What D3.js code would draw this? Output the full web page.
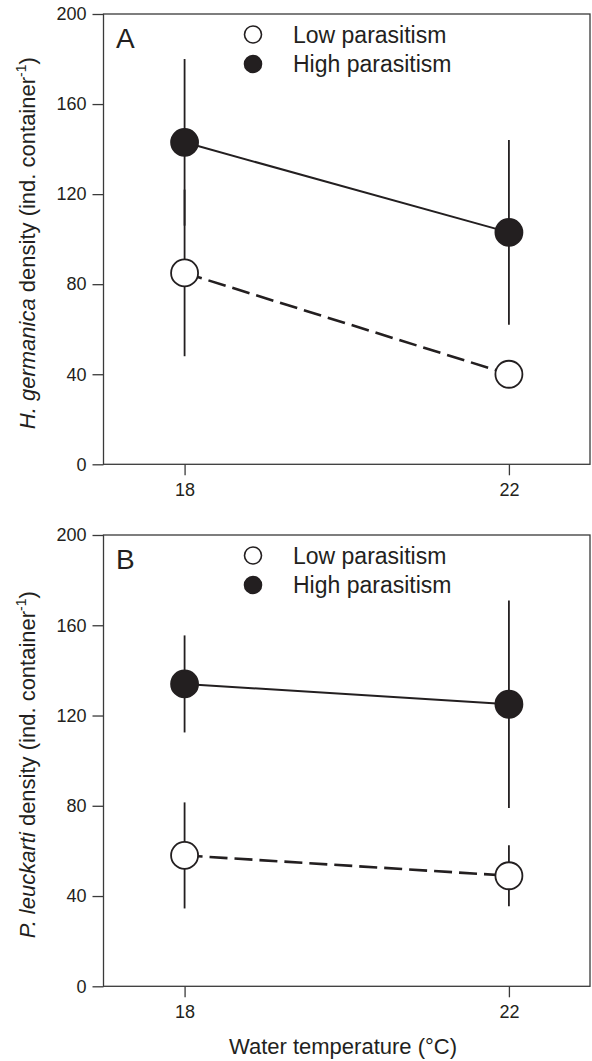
<!DOCTYPE html>
<html>
<head>
<meta charset="utf-8">
<script src="https://cdn.jsdelivr.net/npm/d3@7"></script>
<style>
  body { margin: 0; background: #fff; }
  svg text { font-family: "Liberation Sans", Arial, Helvetica, sans-serif; fill: #231f20; }
</style>
</head>
<body>
<div id="chart"></div>
<script>
/* ------------------------------- data ------------------------------- */
var temps = [18, 22];
var xTicks = [18, 22];
var yTicks = [0, 40, 80, 120, 160, 200];
var seriesNames = ['Low parasitism', 'High parasitism'];

// panel A: H. germanica
var aLowMean = [85, 40];
var aLowErr = [37, 4];
var aHighMean = [143, 103];
var aHighErr = [37, 41];

// panel B: P. leuckarti
var bLowMean = [58, 49];
var bLowErr = [23.5, 13.5];
var bHighMean = [134, 125];
var bHighErr = [21.5, 46];

/* ------------------------------- layout ------------------------------- */
var width = 592;
var height = 1061;
var left = 103.5;
var right = 590;
var ink = '#231f20';

var svg = d3.select('#chart').append('svg')
    .attr('width', width)
    .attr('height', height);

var x = d3.scaleLinear().domain([17, 23]).range([left, right]);

function drawPanel(opts) {
  var y = d3.scaleLinear().domain([0, 200]).range([opts.bottom, opts.top]);
  var g = svg.append('g');

  // frame
  g.append('rect')
      .attr('x', left).attr('y', opts.top)
      .attr('width', right - left).attr('height', opts.bottom - opts.top)
      .attr('fill', 'none').attr('stroke', '#3a3a3a').attr('stroke-width', 1.3);

  // axes
  var yAxis = g.append('g')
      .attr('transform', 'translate(' + left + ',0)')
      .call(d3.axisLeft(y).tickValues(yTicks).tickSize(11).tickPadding(6));
  var xAxis = g.append('g')
      .attr('transform', 'translate(0,' + opts.bottom + ')')
      .call(d3.axisBottom(x).tickValues(xTicks).tickFormat(d3.format('d')).tickSize(11).tickPadding(8));
  [yAxis, xAxis].forEach(function(ax) {
    ax.attr('font-size', 18).attr('font-family', null);
    ax.select('.domain').remove();
    ax.selectAll('line').attr('stroke', '#3a3a3a').attr('stroke-width', 1.3);
    ax.selectAll('text').attr('fill', ink);
  });

  // y title (rotated, part italic, superscript -1)
  var yt = g.append('text')
      .attr('transform', 'translate(35,' + ((opts.top + opts.bottom) / 2 + 4) + ') rotate(-90)')
      .attr('text-anchor', 'middle')
      .attr('font-size', 22);
  yt.append('tspan').attr('font-style', 'italic').text(opts.species);
  yt.append('tspan').text(' density (ind. container');
  yt.append('tspan').attr('font-size', 14).attr('dy', -9).text('-1');
  yt.append('tspan').attr('dy', 9).text(')');

  // panel letter
  g.append('text')
      .attr('x', 116).attr('y', opts.top + 33.5)
      .attr('font-size', 28)
      .text(opts.letter);

  // legend
  var legend = g.selectAll('.legend')
      .data(seriesNames)
      .enter()
      .append('g')
      .attr('transform', function(d, i) { return 'translate(253,' + (opts.top + 20.5 + i * 29.5) + ')'; });
  legend.append('circle')
      .attr('r', 8.5)
      .attr('fill', function(d, i) { return i === 0 ? '#fff' : ink; })
      .attr('stroke', ink).attr('stroke-width', 1.6);
  legend.append('text')
      .attr('x', 40).attr('y', 8)
      .attr('font-size', 23)
      .text(function(d) { return d; });

  var series = [
    { mean: opts.lowMean, err: opts.lowErr, fill: '#fff', dash: '18,7', lw: 2.6 },
    { mean: opts.highMean, err: opts.highErr, fill: ink, dash: null, lw: 2 }
  ];

  // error bars
  series.forEach(function(s) {
    g.selectAll(null)
        .data(temps)
        .enter()
        .append('line')
        .attr('x1', function(d) { return x(d); })
        .attr('x2', function(d) { return x(d); })
        .attr('y1', function(d, i) { return y(s.mean[i] + s.err[i]); })
        .attr('y2', function(d, i) { return y(s.mean[i] - s.err[i]); })
        .attr('stroke', ink).attr('stroke-width', 1.8);
  });

  // connecting lines
  var line = d3.line()
      .x(function(d) { return x(d[0]); })
      .y(function(d) { return y(d[1]); });
  series.forEach(function(s) {
    g.append('path')
        .attr('d', line(d3.zip(temps, s.mean)))
        .attr('fill', 'none')
        .attr('stroke', ink)
        .attr('stroke-width', s.lw)
        .attr('stroke-dasharray', s.dash);
  });

  // points
  series.forEach(function(s) {
    g.selectAll(null)
        .data(temps)
        .enter()
        .append('circle')
        .attr('cx', function(d) { return x(d); })
        .attr('cy', function(d, i) { return y(s.mean[i]); })
        .attr('r', 13.5)
        .attr('fill', s.fill)
        .attr('stroke', ink).attr('stroke-width', 1.8);
  });
}

drawPanel({ top: 14, bottom: 464.3, letter: 'A', species: 'H. germanica',
  lowMean: aLowMean, lowErr: aLowErr, highMean: aHighMean, highErr: aHighErr });
drawPanel({ top: 535, bottom: 986.3, letter: 'B', species: 'P. leuckarti',
  lowMean: bLowMean, lowErr: bLowErr, highMean: bHighMean, highErr: bHighErr });

// x title
svg.append('text')
    .attr('x', 343).attr('y', 1054)
    .attr('text-anchor', 'middle')
    .attr('font-size', 22)
    .text('Water temperature (°C)');
</script>
</body>
</html>
